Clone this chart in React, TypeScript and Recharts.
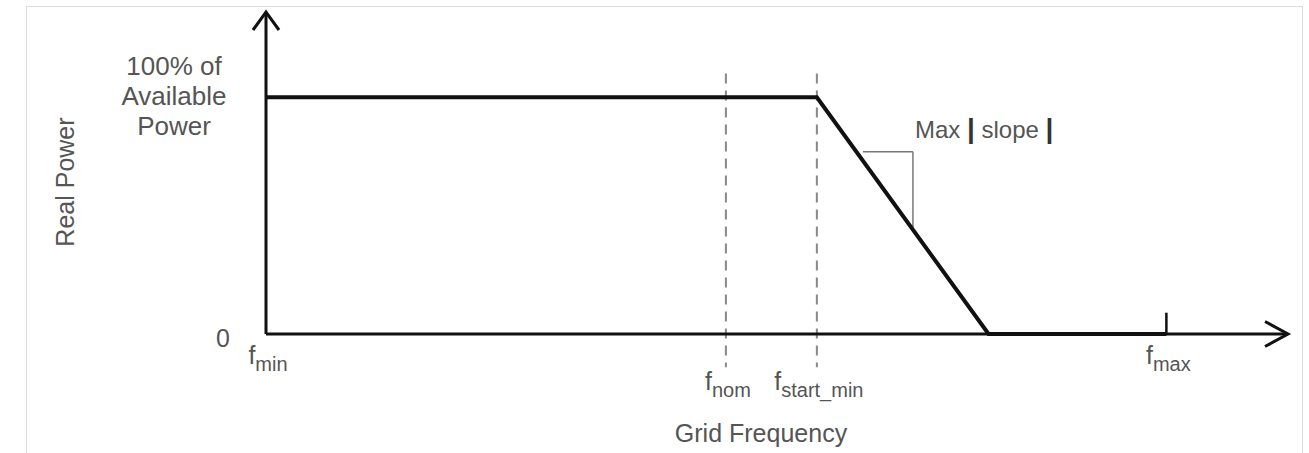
import { LineChart, Line, XAxis, YAxis, ReferenceLine } from "recharts";

// frequency axis runs 0..100 (arbitrary units), power axis 0..136 (% of available)
const frequencies = [0, 53.9, 70.7, 88.1];
const powers = [100, 100, 0, 0];

const fMin = 0;
const fNom = 45;
const fStartMin = 53.9;
const fMax = 88.1;

const freqTicks = [fMin, fNom, fStartMin, fMax];
const freqSubscripts = ["min", "nom", "start_min", "max"];
const powerTicks = [0, 100];
const fullPowerLines = ["100% of", "Available", "Power"];

// little slope triangle next to the ramp
const slopeLeft = 58.4;
const slopeRight = 63.3;
const slopeTop = 77;
const slopeBottom = 45;

const data = frequencies.map((f, i) => ({ f, p: powers[i] }));

const FONT = "'Liberation Sans', Arial, sans-serif";
const TEXT = "#555";
const INK = "#111";

const FreqTick = (props: any) => {
  const { x, y, payload } = props;
  const i = freqTicks.indexOf(payload.value);
  const low = payload.value === fNom || payload.value === fStartMin;
  return (
    <text x={x + 2} y={y + (low ? 56 : 30)} textAnchor="middle" fill={TEXT} fontSize={25} fontFamily={FONT}>
      <tspan>f</tspan>
      <tspan fontSize={20} dy={7}>{freqSubscripts[i]}</tspan>
    </text>
  );
};

const PowerTick = (props: any) => {
  const { x, y, payload } = props;
  if (payload.value === 0) {
    return (
      <text x={x - 43} y={y + 13} textAnchor="middle" fill={TEXT} fontSize={25} fontFamily={FONT}>
        0
      </text>
    );
  }
  return (
    <text textAnchor="middle" fill={TEXT} fontSize={26} fontFamily={FONT}>
      {fullPowerLines.map((s, k) => (
        <tspan key={s} x={x - 92} y={y - 22 + k * 30}>{s}</tspan>
      ))}
    </text>
  );
};

export default function App() {
  return (
    <div style={{ position: "absolute", left: 0, top: 0, width: 1309, height: 453, overflow: "hidden", background: "#fff" }}>
      <div style={{ position: "absolute", left: 26, top: 6, width: 1275, height: 470, border: "1px solid #ddd" }} />
      <div style={{ position: "absolute", left: 0, top: 0 }}>
        <LineChart width={1309} height={453} data={data} margin={{ top: 12, right: 21, bottom: 118, left: 265 }}>
          <defs>
            <marker id="arrowX" viewBox="-30 -20 34 40" refX={0} refY={0} markerWidth={34} markerHeight={40}
              markerUnits="userSpaceOnUse" orient="auto-start-reverse" overflow="visible">
              <path d="M -23 -12.5 L 0 0 L -23 12.5" fill="none" stroke={INK} strokeWidth={3} />
            </marker>
            <marker id="arrowY" viewBox="-30 -20 34 40" refX={0} refY={0} markerWidth={34} markerHeight={40}
              markerUnits="userSpaceOnUse" orient="auto-start-reverse" overflow="visible">
              <path d="M -18 -13 L 0 0 L -18 13" fill="none" stroke={INK} strokeWidth={3} />
            </marker>
          </defs>
          <XAxis
            dataKey="f"
            type="number"
            domain={[0, 100]}
            ticks={freqTicks}
            interval={0}
            tick={<FreqTick />}
            tickLine={false}
            tickSize={0}
            tickMargin={0}
            height={1}
            axisLine={{ stroke: INK, strokeWidth: 3, markerEnd: "url(#arrowX)" }}
          />
          <YAxis
            type="number"
            domain={[0, 136]}
            ticks={powerTicks}
            interval={0}
            tick={<PowerTick />}
            tickLine={false}
            tickSize={0}
            tickMargin={0}
            width={1}
            axisLine={{ stroke: INK, strokeWidth: 3, markerStart: "url(#arrowY)" }}
          />
          <ReferenceLine segment={[{ x: fNom, y: 110 }, { x: fNom, y: -14 }]} stroke="#888" strokeWidth={2}
            strokeDasharray="10 7" ifOverflow="visible" />
          <ReferenceLine segment={[{ x: fStartMin, y: 110 }, { x: fStartMin, y: -14 }]} stroke="#888" strokeWidth={2}
            strokeDasharray="10 7" ifOverflow="visible" />
          <ReferenceLine segment={[{ x: fMax, y: 0 }, { x: fMax, y: 9 }]} stroke={INK} strokeWidth={2.5} ifOverflow="visible" />
          <ReferenceLine segment={[{ x: slopeLeft, y: slopeTop }, { x: slopeRight, y: slopeTop }]} stroke="#777" strokeWidth={1.5} ifOverflow="visible" />
          <ReferenceLine segment={[{ x: slopeRight, y: slopeTop }, { x: slopeRight, y: slopeBottom }]} stroke="#777" strokeWidth={1.5} ifOverflow="visible" />
          <Line type="linear" dataKey="p" stroke={INK} strokeWidth={4} dot={false} activeDot={false} isAnimationActive={false} />
          <text x={915} y={138} fill={TEXT} fontSize={24} fontFamily={FONT}>
            <tspan>Max </tspan>
            <tspan fill="#333" fontWeight="bold" fontSize={28}>|</tspan>
            <tspan> slope </tspan>
            <tspan fill="#333" fontWeight="bold" fontSize={28}>|</tspan>
          </text>
          <text x={761} y={442} textAnchor="middle" fill={TEXT} fontSize={25} fontFamily={FONT}>
            Grid Frequency
          </text>
          <text x={74} y={182} textAnchor="middle" fill={TEXT} fontSize={25} fontFamily={FONT} transform="rotate(-90 74 182)">
            Real Power
          </text>
        </LineChart>
      </div>
    </div>
  );
}
